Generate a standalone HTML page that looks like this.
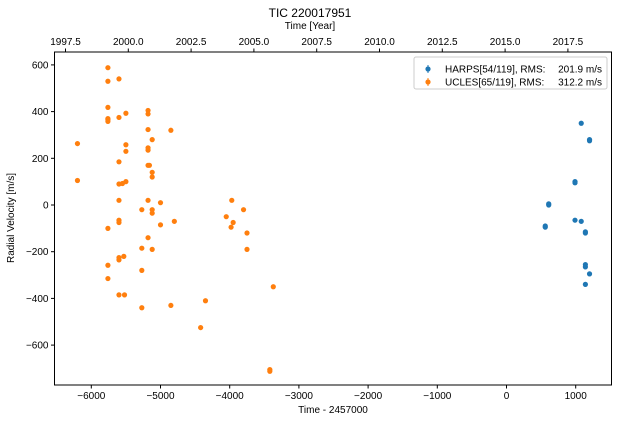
<!DOCTYPE html>
<html><head><meta charset="utf-8"><style>
body{margin:0;background:#fff;font-family:"Liberation Sans",sans-serif;}
svg text{font-family:"Liberation Sans",sans-serif;font-size:10px;fill:#000;}
</style></head><body>
<svg id="c" width="619" height="425"></svg>
<script>
const xTicks=[-6000,-5000,-4000,-3000,-2000,-1000,0,1000];
const yTicks=[600,400,200,0,-200,-400,-600];
const yearTicks=[1997.5,2000.0,2002.5,2005.0,2007.5,2010.0,2012.5,2015.0,2017.5];
const harpsX=[560,560,610,610,990,990,990,1080,1080,1140,1140,1140,1140,1140,1200,1200,1200];
const harpsY=[-90,-95,5,0,100,95,-65,350,-70,-115,-120,-255,-265,-340,280,275,-295];
const uclesX=[-6200,-6200,-5760,-5760,-5760,-5760,-5760,-5760,-5760,-5760,-5760,-5600,-5600,-5600,-5600,-5600,-5600,-5600,-5600,-5600,-5600,-5550,-5530,-5520,-5500,-5500,-5500,-5500,-5270,-5270,-5270,-5270,-5180,-5180,-5180,-5180,-5180,-5180,-5160,-5180,-5180,-5120,-5120,-5120,-5120,-5120,-5120,-5000,-5000,-4850,-4850,-4800,-4420,-4350,-4050,-3980,-3970,-3950,-3800,-3750,-3750,-3420,-3420,-3370];
const uclesY=[263,105,588,530,418,370,365,358,-100,-258,-315,540,375,185,90,20,-65,-75,-225,-235,-385,92,-220,-385,393,258,230,100,-20,-185,-280,-440,405,390,323,245,235,170,170,20,-140,280,140,120,-20,-35,-190,10,-85,320,-430,-70,-525,-410,-50,-95,20,-75,-20,-120,-190,-705,-712,-350];
const L=54.5,R=611.5,T=52,B=385;
const X=v=>506.5+v*0.0692;
const Y=v=>205-v*0.2335;
const YR=y=>128.3+(y-2000)*25.12;
const svg=document.getElementById('c');const NS='http://www.w3.org/2000/svg';
function mk(t,a,p){const e=document.createElementNS(NS,t);for(const k in a)e.setAttribute(k,a[k]);(p||svg).appendChild(e);return e;}
let e;
e=mk('text',{x:310,y:17,'text-anchor':'middle','font-size':'12'});e.textContent='TIC 220017951';e.style.fontSize='12px';

e=mk('text',{x:310,y:29,'text-anchor':'middle'});e.textContent='Time [Year]';

e=mk('text',{x:333,y:413,'text-anchor':'middle'});e.textContent='Time - 2457000';

e=mk('text',{x:14,y:218,'text-anchor':'middle',transform:'rotate(-90 14 218)'});e.textContent='Radial Velocity [m/s]';

xTicks.forEach(v=>{const x=X(v);mk('line',{x1:x,x2:x,y1:B,y2:B+3.5,stroke:'#000'});
 e=mk('text',{x:x,y:B+14,'text-anchor':'middle'});e.textContent=String(v).replace('-','\u2212');
 });
yTicks.forEach(v=>{const y=Y(v);mk('line',{x1:L-3.5,x2:L,y1:y,y2:y,stroke:'#000'});
 e=mk('text',{x:L-6,y:y+3.5,'text-anchor':'end'});e.textContent=String(v).replace('-','\u2212');
 });
yearTicks.forEach(v=>{const x=YR(v);mk('line',{x1:x,x2:x,y1:T,y2:T-3.5,stroke:'#000'});
 e=mk('text',{x:x,y:T-7,'text-anchor':'middle'});e.textContent=v.toFixed(1);
 });
harpsX.forEach((v,i)=>{e=mk('circle',{cx:X(v),cy:Y(harpsY[i]),r:2.6,fill:'#1f77b4'});
 });
uclesX.forEach((v,i)=>{e=mk('circle',{cx:X(v),cy:Y(uclesY[i]),r:2.6,fill:'#ff7f0e'});
 });
e=mk('rect',{x:L,y:T,width:R-L,height:B-T,fill:'none',stroke:'#000','stroke-width':1});

const g=mk('g',{});
mk('rect',{x:414,y:57,width:193,height:32,rx:2,fill:'#fff',stroke:'#ccc'},g);
[['#1f77b4','HARPS[54/119], RMS:','201.9 m/s',69],['#ff7f0e','UCLES[65/119], RMS:','312.2 m/s',82]].forEach(r=>{
 mk('line',{x1:428,x2:428,y1:r[3]-4,y2:r[3]+4,stroke:r[0]},g);mk('circle',{cx:428,cy:r[3],r:2.6,fill:r[0]},g);
 let t=mk('text',{x:445,y:r[3]+3.5},g);t.textContent=r[1];
 t=mk('text',{x:602,y:r[3]+3.5,'text-anchor':'end'},g);t.textContent=r[2];});
</script>
</body></html>
